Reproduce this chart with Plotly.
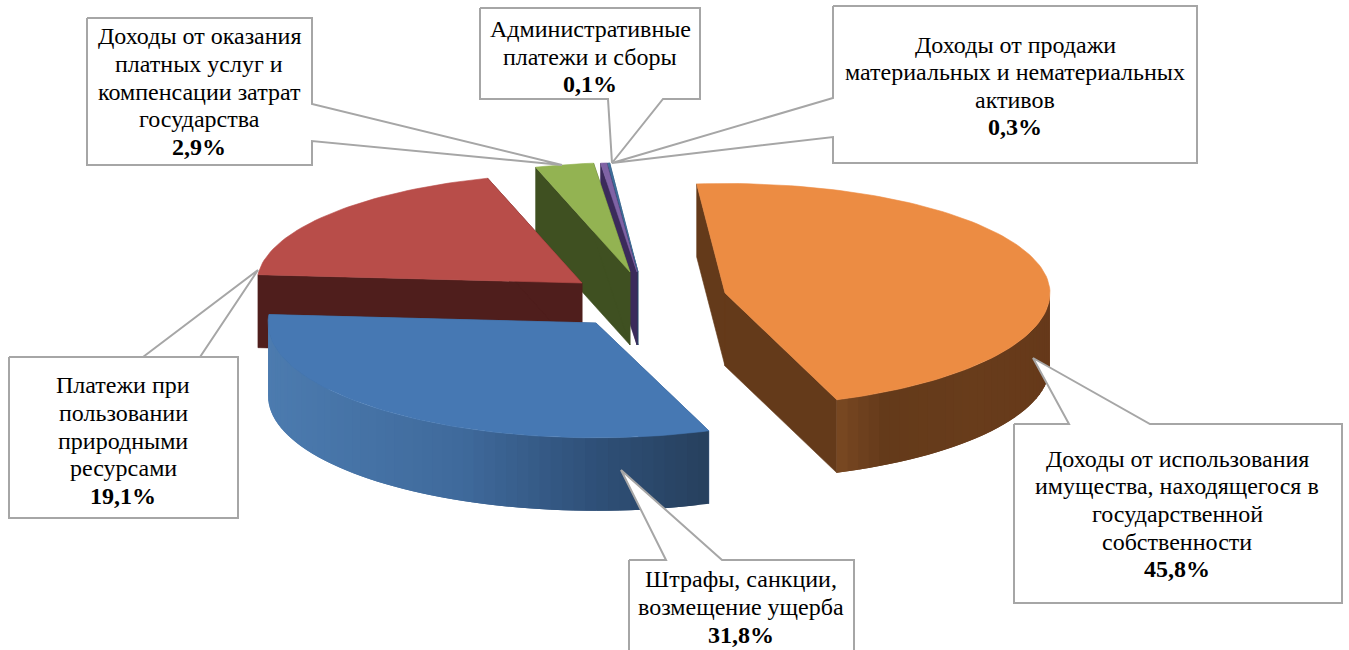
import math
import plotly.graph_objects as go

# ---- data (clockwise from the start angle) ----
categories = [
    "Доходы от использования<br>имущества, находящегося в<br>государственной<br>собственности",
    "Штрафы, санкции,<br>возмещение ущерба",
    "Платежи при<br>пользовании<br>природными<br>ресурсами",
    "Доходы от оказания<br>платных услуг и<br>компенсации затрат<br>государства",
    "Доходы от продажи<br>материальных и нематериальных<br>активов",
    "Административные<br>платежи и сборы",
]
shares = [45.8, 31.8, 19.1, 2.9, 0.3, 0.1]

# ---- geometry and style ----
W, H = 1349, 650
START = -5.0
RADII = [325.0, 328.0, 325.0, 325.0, 325.0, 325.0]
TILT_BACK, TILT_FRONT, DEPTH = 0.337, 0.35, 73.0
apex = [(725, 293), (596, 323), (582, 283), (630, 272), (637, 272), (638, 272)]
top_col = ["#EC8C43", "#4678B3", "#B84D49", "#93B352", "#7F63A5", "#3F6E9A"]
side_col = ["#643A1A", "#3A608F", "#4F1E1C", "#3F5021", "#3B2B5B", "#24466A"]
side_stops = {
    0: [(0.0, "#66391A"), (0.33, "#683C1B"), (0.75, "#643A1A"), (0.88, "#70421F"), (1.0, "#7C4A22")],
    1: [(0.0, "#27415F"), (0.25, "#2F5078"), (0.55, "#3F6A9C"), (1.0, "#4C7BAF")],
}
boxes = [  # callout body (x0, y0, x1, y1), notch points, side of the notch
    ((1014, 424, 1342, 603), [(1150, 424), (1033, 358), (1069, 424)], "top"),
    ((629, 560, 854, 690), [(722, 560), (621, 470), (666, 560)], "top"),
    ((9, 357, 238, 518), [(143, 357), (258, 270), (200, 357)], "top"),
    ((87, 18, 312, 165), [(312, 104), (562, 165), (312, 141)], "right"),
    ((833, 6, 1197, 163), [(833, 137), (612, 163), (833, 98)], "left"),
    ((480, 8, 700, 99), [(663, 99), (612, 163), (608, 99)], "bottom"),
]
text_pos = [(1177, 514), (741, 607), (123, 440.5), (199, 91.5), (1015, 86), (590, 56.5)]
LINE_STEP = 27.6
FONT_SIZE = 24
LINE_COL = "#A6A6A6"


def hex2rgb(c):
    return tuple(int(c[i:i + 2], 16) for i in (1, 3, 5))


def pick(stops, f):
    for (a, ca), (b, cb) in zip(stops, stops[1:]):
        if a <= f <= b:
            t = (f - a) / (b - a) if b > a else 0
            p, q = hex2rgb(ca), hex2rgb(cb)
            return "rgb(%d,%d,%d)" % tuple(round(p[i] + (q[i] - p[i]) * t) for i in range(3))
    return stops[-1][1]


def pt(c, deg, rx):
    r = math.radians(deg)
    co = math.cos(r)
    tilt = TILT_BACK if co > 0 else TILT_FRONT
    return c[0] + rx * math.sin(r), c[1] - rx * tilt * co


def poly(fig, pts, color, lw=0.6):
    xs = [p[0] for p in pts] + [pts[0][0]]
    ys = [p[1] for p in pts] + [pts[0][1]]
    fig.add_trace(go.Scatter(x=xs, y=ys, mode="lines", fill="toself", fillcolor=color,
                             line=dict(color=color, width=lw), hoverinfo="skip", showlegend=False))


angles = []
a = START
for s in shares:
    angles.append((a, a + s * 3.6))
    a += s * 3.6

fig = go.Figure()
for i in [5, 4, 3, 2, 0, 1]:
    c, (a0, a1), rx = apex[i], angles[i], RADII[i]
    # radial faces
    for ang in (a0, a1):
        e = pt(c, ang, rx)
        poly(fig, [c, e, (e[0], e[1] + DEPTH), (c[0], c[1] + DEPTH)], side_col[i])
    # outer wall, front part only, in overlapping strips for the shading
    lo, hi = max(a0, 90), min(a1, 270)
    if hi > lo:
        n = max(2, int((hi - lo) / 2.0))
        xmin, xmax = (c[0] + rx if i == 0 else pt(c, lo, rx)[0]), pt(c, hi, rx)[0]
        for k in range(n):
            b0 = lo + (hi - lo) * k / n
            b1 = lo + (hi - lo) * min(n, k + 2) / n
            steps = [b0 + (b1 - b0) * j / 4 for j in range(5)]
            upper = [pt(c, b, rx) for b in steps]
            lower = [(p[0], p[1] + DEPTH) for p in upper]
            col = side_col[i]
            if i in side_stops:
                f = (upper[0][0] - xmin) / (xmax - xmin) if xmax != xmin else 0
                col = pick(side_stops[i], max(0, min(1, f)))
            poly(fig, upper + lower[::-1], col, lw=0)
    # top face
    m = max(2, int((a1 - a0) / 1.5))
    arc = [pt(c, a0 + (a1 - a0) * k / m, rx) for k in range(m + 1)]
    poly(fig, [c] + arc, top_col[i])

# callouts
for (x0, y0, x1, y1), notch, side in boxes:
    if side == "top":
        pts = [(x0, y0)] + notch[::-1] + [(x1, y0), (x1, y1), (x0, y1)]
    elif side == "right":
        pts = [(x0, y0), (x1, y0)] + notch + [(x1, y1), (x0, y1)]
    elif side == "left":
        pts = [(x0, y0), (x1, y0), (x1, y1), (x0, y1)] + notch
    else:
        pts = [(x0, y0), (x1, y0), (x1, y1)] + notch + [(x0, y1)]
    pts = pts + [pts[0]]
    fig.add_trace(go.Scatter(x=[p[0] for p in pts], y=[p[1] for p in pts], mode="lines", fill="toself",
                             fillcolor="white", line=dict(color=LINE_COL, width=2),
                             hoverinfo="skip", showlegend=False))

for name, s, (tx, ty) in zip(categories, shares, text_pos):
    pct = f"{s:.1f}".replace(".", ",") + "%"
    lines = name.split("<br>") + [f"<b>{pct}</b>"]
    first = ty - LINE_STEP * (len(lines) - 1) / 2
    for j, line in enumerate(lines):
        fig.add_annotation(x=tx, y=first + j * LINE_STEP, xref="x", yref="y", text=line, showarrow=False,
                           align="center", xanchor="center", yanchor="middle",
                           font=dict(family="Liberation Serif", size=FONT_SIZE, color="#000000"))

fig.update_layout(width=W, height=H, margin=dict(l=0, r=0, t=0, b=0), autosize=False,
                  paper_bgcolor="white", plot_bgcolor="white", showlegend=False,
                  xaxis=dict(range=[0, W], visible=False, fixedrange=True),
                  yaxis=dict(range=[H, 0], visible=False, fixedrange=True))
fig.write_html("out.html", config={"displayModeBar": False},
               post_script="document.body.style.margin='0';document.body.style.overflow='hidden';")
